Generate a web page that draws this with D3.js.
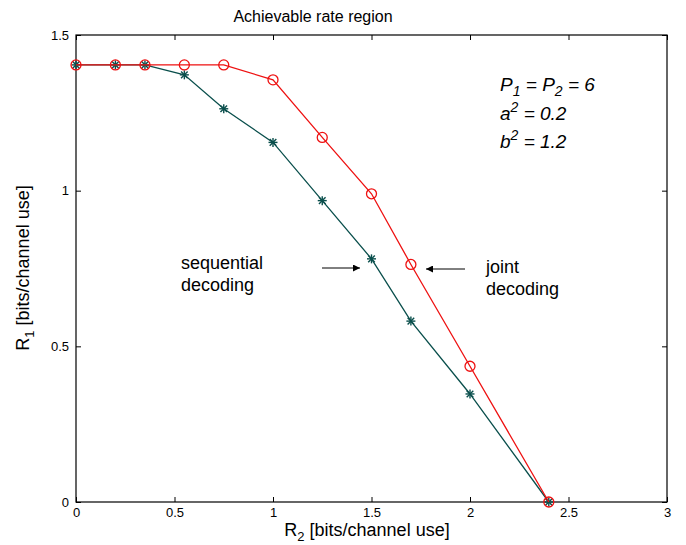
<!DOCTYPE html>
<html><head><meta charset="utf-8">
<script src="https://cdn.jsdelivr.net/npm/d3@7"></script>
<style>body{margin:0;background:#fff}svg{display:block;font-family:"Liberation Sans",Arial,sans-serif}</style>
</head><body><svg id="c" width="686" height="545"></svg>
<script>
const r2 = [0, 0.2, 0.35, 0.55, 0.75, 1.0, 1.25, 1.5, 1.7, 2.0, 2.4];
const jointR1 = [1.404, 1.404, 1.404, 1.404, 1.404, 1.356, 1.171, 0.990, 0.763, 0.436, 0];
const seqR1 = [1.404, 1.404, 1.404, 1.372, 1.263, 1.155, 0.968, 0.781, 0.581, 0.347, 0];
const xTicks = [0, 0.5, 1, 1.5, 2, 2.5, 3];
const yTicks = [0, 0.5, 1, 1.5];

const svg = d3.select("#c");
const L = 76, R = 667, T = 35, B = 502;
const x = d3.scaleLinear().domain([0, 3]).range([L, R]);
const y = d3.scaleLinear().domain([0, 1.5]).range([B, T]);
const red = "#ee1111", green = "#0a4f4c";

svg.append("rect").attr("x", L).attr("y", T).attr("width", R - L).attr("height", B - T)
  .attr("fill", "none").attr("stroke", "#000").attr("stroke-width", 1.2);

const fmt = d => d3.format("")(d);
const xb = svg.append("g").attr("transform", `translate(0,${B})`)
  .call(d3.axisBottom(x).tickValues(xTicks).tickSize(-5).tickPadding(6).tickFormat(fmt));
const xt = svg.append("g").attr("transform", `translate(0,${T})`)
  .call(d3.axisTop(x).tickValues(xTicks).tickSize(-5).tickFormat(""));
const yl = svg.append("g").attr("transform", `translate(${L},0)`)
  .call(d3.axisLeft(y).tickValues(yTicks).tickSize(-5).tickPadding(7).tickFormat(fmt));
const yr = svg.append("g").attr("transform", `translate(${R},0)`)
  .call(d3.axisRight(y).tickValues(yTicks).tickSize(-5).tickFormat(""));
[xb, xt, yl, yr].forEach(g => {
  g.select(".domain").remove();
  g.selectAll("line").attr("stroke", "#000");
  g.selectAll("text").attr("font-size", 13).attr("fill", "#000")
    .attr("font-family", '"Liberation Sans",Arial,sans-serif');
});

const line = d3.line().x(d => x(d[0])).y(d => y(d[1]));
const seq = r2.map((v, i) => [v, seqR1[i]]);
const joint = r2.map((v, i) => [v, jointR1[i]]);
svg.append("path").datum(seq).attr("d", line).attr("fill", "none").attr("stroke", green).attr("stroke-width", 1.3);
const star = svg.append("g").selectAll("g").data(seq).join("g")
  .attr("transform", d => `translate(${x(d[0])},${y(d[1])})`);
[[-4.5, 0, 4.5, 0], [0, -4.5, 0, 4.5], [-3.3, -3.3, 3.3, 3.3], [-3.3, 3.3, 3.3, -3.3]].forEach(s => {
  star.append("line").attr("x1", s[0]).attr("y1", s[1]).attr("x2", s[2]).attr("y2", s[3])
    .attr("stroke", green).attr("stroke-width", 1.4);
});
svg.append("path").datum(joint).attr("d", line).attr("fill", "none").attr("stroke", red).attr("stroke-width", 1.3);
svg.append("g").selectAll("circle").data(joint).join("circle")
  .attr("cx", d => x(d[0])).attr("cy", d => y(d[1])).attr("r", 5)
  .attr("fill", "none").attr("stroke", red).attr("stroke-width", 1.3);

svg.append("text").attr("x", 313).attr("y", 22).attr("text-anchor", "middle")
  .attr("font-size", 16).text("Achievable rate region");

const xlab = svg.append("text").attr("x", 367).attr("y", 536).attr("text-anchor", "middle").attr("font-size", 18);
xlab.append("tspan").text("R");
xlab.append("tspan").attr("dy", 5).attr("font-size", 13).text("2");
xlab.append("tspan").attr("dy", -5).text(" [bits/channel use]");
const ylab = svg.append("text").attr("transform", "translate(29,268) rotate(-90)").attr("text-anchor", "middle").attr("font-size", 18);
ylab.append("tspan").text("R");
ylab.append("tspan").attr("dy", 5).attr("font-size", 13).text("1");
ylab.append("tspan").attr("dy", -5).text(" [bits/channel use]");

const ann = svg.append("g").attr("font-style", "italic").attr("font-size", 19);
function sub(parts, xx, yy) {
  const tx = ann.append("text").attr("x", xx).attr("y", yy);
  parts.forEach(p => {
    const s = tx.append("tspan").text(p[0]);
    if (p[1]) s.attr("dy", p[1]);
    if (p[2]) s.attr("font-size", p[2]);
  });
}
sub([["P"], ["1", 5, 14], [" = P", -5], ["2", 5, 14], [" = 6", -5]], 500, 91);
sub([["a"], ["2", -8, 14], [" = 0.2", 8]], 500, 120);
sub([["b"], ["2", -8, 14], [" = 1.2", 8]], 500, 148);

const lab = svg.append("g").attr("font-size", 18);
lab.append("text").attr("x", 181).attr("y", 269).text("sequential");
lab.append("text").attr("x", 181).attr("y", 291).text("decoding");
lab.append("text").attr("x", 486).attr("y", 273).text("joint");
lab.append("text").attr("x", 486).attr("y", 295).text("decoding");

const defs = svg.append("defs");
defs.append("marker").attr("id", "ah").attr("viewBox", "0 0 10 10").attr("refX", 10).attr("refY", 5)
  .attr("markerWidth", 12).attr("markerHeight", 7).attr("markerUnits", "userSpaceOnUse").attr("orient", "auto")
  .append("path").attr("d", "M0,0L10,5L0,10Z").attr("fill", "#000");
svg.append("line").attr("x1", 322).attr("y1", 268).attr("x2", 360).attr("y2", 268)
  .attr("stroke", "#000").attr("stroke-width", 1).attr("marker-end", "url(#ah)");
svg.append("line").attr("x1", 465).attr("y1", 269).attr("x2", 426).attr("y2", 269)
  .attr("stroke", "#000").attr("stroke-width", 1).attr("marker-end", "url(#ah)");
</script></body></html>
